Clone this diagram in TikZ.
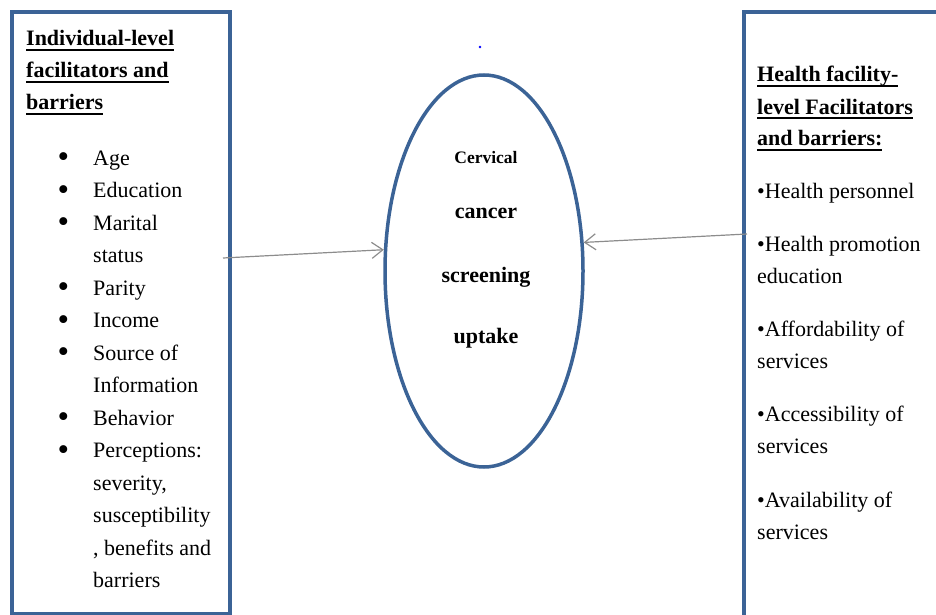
\documentclass[tikz,border=0pt]{standalone}
\usepackage{fontspec}
\setmainfont{Liberation Serif}
\usetikzlibrary{shapes.geometric,arrows.meta}
\definecolor{boxblue}{RGB}{59,99,150}
\definecolor{arrowgray}{RGB}{140,140,140}
\newcommand\myul[1]{\setbox0\hbox{#1}\rlap{\rule[-5pt]{\wd0}{1.8pt}}\box0}
\newcommand\bul{\llap{\raisebox{-2.8pt}{\fontsize{33}{33}\selectfont\textbullet}\hspace{24pt}}}
\begin{document}
\begin{tikzpicture}[x=1pt,y=-1pt,
  panel/.style={draw=boxblue,line width=4pt,rectangle,inner sep=0pt,anchor=north west},
  oval/.style={ellipse,draw=boxblue,line width=3.5pt,inner sep=0pt,minimum width=198pt,minimum height=392pt},
  txt/.style={anchor=base west,inner sep=0pt,font=\fontsize{22}{26}\selectfont},
  ttl/.style={anchor=base west,inner sep=0pt,font=\fontsize{22}{26}\selectfont\bfseries},
  ctr/.style={anchor=base,inner sep=0pt,font=\fontsize{22}{26}\selectfont\bfseries},
  link/.style={draw=arrowgray,line width=1.2pt,-{Straight Barb[length=11pt,width=16pt]}}]
\useasboundingbox (0,0) rectangle (936,615);
% boxes
\node[panel,minimum width=218pt,minimum height=602pt] (left) at (10,10) {};
\begin{scope}
\clip (0,0) rectangle (936,615);
\node[panel,minimum width=220pt,minimum height=606pt] (right) at (742,10) {};
\end{scope}
% ellipse
\node[oval] (ell) at (484,271) {};
\node[circle,fill=blue,inner sep=0pt,minimum size=2.6pt] (dot) at (480,47) {};
% left title
\node[ttl] (lt1) at (26,46) {\myul{Individual-level}};
\node[ttl] (lt2) at (26,78) {\myul{facilitators and}};
\node[ttl] (lt3) at (26,110) {\myul{barriers}};
% left list
\node[txt] (l1) at (93,165) {\bul Age};
\node[txt] (l2) at (93,197.5) {\bul Education};
\node[txt] (l3) at (93,230) {\bul Marital};
\node[txt] (l4) at (93,262.5) {status};
\node[txt] (l5) at (93,295) {\bul Parity};
\node[txt] (l6) at (93,327.5) {\bul Income};
\node[txt] (l7) at (93,360) {\bul Source of};
\node[txt] (l8) at (93,392.5) {Information};
\node[txt] (l9) at (93,425) {\bul Behavior};
\node[txt] (l10) at (93,457.5) {\bul Perceptions:};
\node[txt] (l11) at (93,490) {severity,};
\node[txt] (l12) at (93,522.5) {susceptibility};
\node[txt] (l13) at (93,555) {, benefits and};
\node[txt] (l14) at (93,587.5) {barriers};
% right title
\node[ttl] (rt1) at (757,82) {\myul{Health facility-}};
\node[ttl] (rt2) at (757,114) {\myul{level Facilitators}};
\node[ttl] (rt3) at (757,146) {\myul{and barriers:}};
% right list
\node[txt] (r1) at (757,198) {\textbullet Health personnel};
\node[txt] (r2) at (757,251) {\textbullet Health promotion};
\node[txt] (r3) at (757,283) {education};
\node[txt] (r4) at (757,336) {\textbullet Affordability of};
\node[txt] (r5) at (757,368) {services};
\node[txt] (r6) at (757,421) {\textbullet Accessibility of};
\node[txt] (r7) at (757,453) {services};
\node[txt] (r8) at (757,507) {\textbullet Availability of};
\node[txt] (r9) at (757,539) {services};
% ellipse text
\node[ctr,font=\fontsize{17.5}{20}\selectfont\bfseries] (c1) at (486,163) {Cervical};
\node[ctr] (c2) at (486,218) {cancer};
\node[ctr] (c3) at (486,282) {screening};
\node[ctr] (c4) at (486,343) {uptake};
% arrows
\coordinate (ls) at (223,258);
\coordinate (rs) at (747,234);
\draw[link] (ls) -- (ell.168);
\draw[link] (rs) -- (ell.16.5);
\end{tikzpicture}
\end{document}
